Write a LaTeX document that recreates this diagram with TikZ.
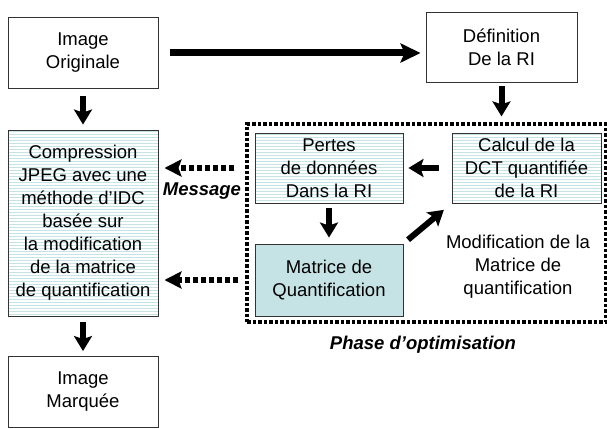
\documentclass[tikz,border=0pt]{standalone}
\usepackage{fontspec}
\setmainfont{Liberation Sans}
\usetikzlibrary{arrows.meta,positioning}
\definecolor{stripeCyan}{RGB}{196,228,230}
\definecolor{matFill}{RGB}{197,227,229}

\tikzset{
  box/.style={draw=black!80,line width=0.9pt,inner sep=0pt,align=center,
    minimum width=150pt,minimum height=71pt,font=\fontsize{18.5}{23}\selectfont},
  striped/.style={path picture={
      \foreach \k in {1.5,4.5,...,190}{
        \draw[stripeCyan,line width=1pt]
          ([yshift=-\k pt]path picture bounding box.north west) --
          ([yshift=-\k pt]path picture bounding box.north east);}}},
  bigarrow/.style={line width=6pt,-{Stealth[length=15pt,width=18pt,inset=3pt]}},
  dotarrow/.style={line width=6pt,dash pattern=on 5pt off 3pt,
    -{Stealth[length=17pt,width=17pt,inset=3pt]}},
  optframe/.style={draw,line width=3.2pt,dash pattern=on 3.5pt off 2pt,inner sep=0pt},
  label/.style={align=center,font=\fontsize{18.5}{23}\selectfont},
  bilabel/.style={font=\fontsize{18.5}{23}\selectfont\bfseries\itshape}
}

\begin{document}
\begin{tikzpicture}[x=1pt,y=-1pt]
    \useasboundingbox (0,0) rectangle (607,428);

    % colonne de gauche
    \node[box] (orig) at (83,53) {Image\\Originale};
    \node[box,striped,minimum height=186pt] (comp) at (83,223)
        {Compression\\JPEG avec une\\méthode d’IDC\\basée sur\\la modification\\de la matrice\\de quantification};
    \node[box] (marq) at (83,392) {Image\\Marquée};

    \node[box,minimum width=151pt,minimum height=70pt] (defi) at (501.5,47) {Définition\\De la RI};

    % phase d'optimisation
    \node[optframe,minimum width=359pt,minimum height=198pt] (opt) at (426.5,223) {};
    \node[box,striped,minimum width=148pt,minimum height=70pt] (pert) at (329,168) {Pertes\\de données\\Dans la RI};
    \node[box,striped,minimum width=149pt,minimum height=70pt] (calc) at (526.5,168) {Calcul de la\\DCT quantifiée\\de la RI};
    \node[box,fill=matFill,minimum width=148pt,minimum height=72pt] (matr) at (329,280) {Matrice de\\Quantification};
    \node[label] (modif) at (518,267) {Modification de la\\Matrice de\\quantification};
    \node[bilabel] (phase) at (423,345) {Phase d’optimisation};

    \draw[bigarrow,shorten <=7pt,shorten >=5pt] (orig.south) -- (comp.north);
    \draw[bigarrow,shorten <=6pt,shorten >=5pt] (comp.south) -- (marq.north);
    \draw[bigarrow,line width=7pt,-{Stealth[length=20pt,width=19pt,inset=4pt]},
        shorten <=12pt,shorten >=5pt] (orig.east) -- (orig.east -| defi.west);
    \draw[bigarrow,shorten <=4pt,shorten >=6pt] (defi.south) -- (defi.south |- opt.north);
    \draw[bigarrow,shorten <=13pt,shorten >=5pt] (calc.west) -- (pert.east);
    \draw[bigarrow,shorten <=5pt,shorten >=6pt] (pert.south) -- (matr.north);
    \draw[bigarrow,shorten <=6pt,shorten >=10pt] (matr.north east) -- (calc.south west);

    % messages vers la compression
    \draw[dotarrow,shorten <=11pt,shorten >=6pt] (pert.west -| opt.west) -- (pert.west -| comp.east)
        node[midway,below=8pt,bilabel] (msg) {Message};
    \draw[dotarrow,shorten <=7pt,shorten >=6pt] (matr.west -| opt.west) -- (matr.west -| comp.east);
\end{tikzpicture}
\end{document}
